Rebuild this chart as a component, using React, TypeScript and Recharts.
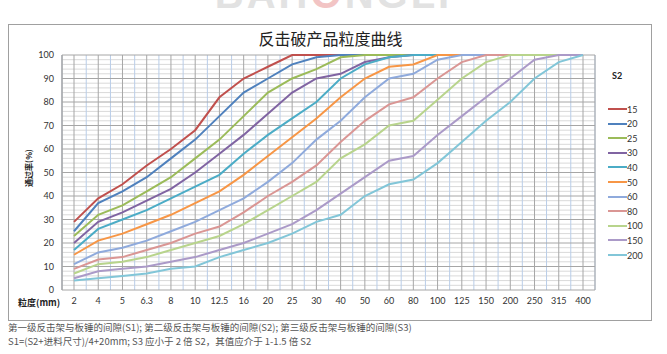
import React from "react";
import { LineChart, Line, XAxis, YAxis, CartesianGrid } from "recharts";

const sizes = ["2", "4", "5", "6.3", "8", "10", "12.5", "16", "20", "25", "30", "40", "50", "60", "80", "100", "125", "150", "200", "250", "315", "400"];

const s15 = [29, 39, 45, 53, 60, 68, 82, 90, 95, 100, 100, 100, 100, 100, 100, 100, 100, 100, 100, 100, 100, 100];
const s20 = [25, 37, 42, 48, 56, 64, 74, 84, 90, 96, 99, 100, 100, 100, 100, 100, 100, 100, 100, 100, 100, 100];
const s25 = [23, 32, 36, 42, 48, 56, 64, 74, 84, 90, 94, 99, 100, 100, 100, 100, 100, 100, 100, 100, 100, 100];
const s30 = [20, 29, 33, 38, 43, 50, 58, 66, 75, 84, 90, 92, 97, 99, 100, 100, 100, 100, 100, 100, 100, 100];
const s40 = [17, 26, 30, 34, 39, 44, 49, 58, 66, 73, 80, 90, 96, 99, 100, 100, 100, 100, 100, 100, 100, 100];
const s50 = [15, 21, 24, 28, 32, 37, 42, 49, 57, 65, 73, 82, 90, 95, 96, 100, 100, 100, 100, 100, 100, 100];
const s60 = [11, 16, 18, 21, 25, 29, 34, 39, 46, 54, 64, 72, 82, 90, 92, 98, 100, 100, 100, 100, 100, 100];
const s80 = [9, 13, 14, 17, 20, 24, 27, 33, 40, 46, 53, 63, 72, 79, 82, 90, 97, 100, 100, 100, 100, 100];
const s100 = [7, 11, 12, 14, 17, 20, 23, 28, 34, 40, 46, 56, 62, 70, 72, 81, 90, 97, 100, 100, 100, 100];
const s150 = [5, 8, 9, 10, 12, 14, 17, 20, 24, 28, 34, 41, 48, 55, 57, 66, 74, 82, 90, 98, 100, 100];
const s200 = [4, 5, 6, 7, 9, 10, 14, 17, 20, 24, 29, 32, 40, 45, 47, 54, 63, 72, 80, 90, 97, 100];

const yTicks = [0, 10, 20, 30, 40, 50, 60, 70, 80, 90, 100];

const series = [
  { name: "15", color: "#C0504D", values: s15 },
  { name: "20", color: "#4F81BD", values: s20 },
  { name: "25", color: "#9BBB59", values: s25 },
  { name: "30", color: "#8064A2", values: s30 },
  { name: "40", color: "#4BACC6", values: s40 },
  { name: "50", color: "#F79646", values: s50 },
  { name: "60", color: "#8FAADC", values: s60 },
  { name: "80", color: "#DA9694", values: s80 },
  { name: "100", color: "#B8D48C", values: s100 },
  { name: "150", color: "#AB9AC8", values: s150 },
  { name: "200", color: "#82C6D8", values: s200 },
];

const data = sizes.map((size, i) => {
  const row: Record<string, any> = { size };
  series.forEach((s) => (row["s" + s.name] = s.values[i]));
  return row;
});

const font = "Lato, 'Noto Sans', sans-serif";
const cjk = "'Noto Sans CJK SC', sans-serif";

// grid helpers (Excel style: light minor lines, darker major lines)
const minorVals = Array.from({ length: 51 }, (_, i) => i * 2).filter((v) => v % 10 !== 0);
const yGen = (vals: number[]) => ({ offset }: any) =>
  vals.map((v) => offset.top + offset.height * (1 - v / 100));
const bandGen = ({ offset }: any) =>
  Array.from({ length: sizes.length + 1 }, (_, i) => offset.left + (offset.width * i) / sizes.length);

export default function App() {
  return (
    <div style={{ position: "absolute", left: 0, top: 0, width: 667, height: 354, background: "#fff", overflow: "hidden" }}>
      <div
        style={{
          position: "absolute",
          left: 0,
          width: 667,
          top: -31,
          height: 50,
          lineHeight: "50px",
          textAlign: "center",
          fontFamily: "'Liberation Sans', sans-serif",
          fontWeight: 700,
          fontSize: 40,
          letterSpacing: 3,
          color: "#e2e2e2",
          whiteSpace: "nowrap",
        }}
      >
        BAH<span style={{ color: "#f2c4c4" }}>O</span>NGLI
      </div>
      <div
        style={{
          position: "absolute",
          left: 8,
          top: 24,
          width: 642,
          height: 295,
          border: "1.5px solid #a0a0a0",
        }}
      />
      <div
        style={{
          position: "absolute",
          left: 8,
          width: 645,
          top: 26,
          textAlign: "center",
          fontFamily: cjk,
          fontSize: 16,
          color: "#222",
        }}
      >
        反击破产品粒度曲线
      </div>
      <div style={{ position: "absolute", left: 0, top: 0 }}>
        <LineChart width={667} height={354} data={data} margin={{ top: 55, right: 72, bottom: 44, left: 32 }}>
          <CartesianGrid horizontal vertical={false} horizontalCoordinatesGenerator={yGen(minorVals)} stroke="#d9d9d9" strokeWidth={1} />
          <CartesianGrid horizontal={false} vertical verticalCoordinatesGenerator={bandGen} stroke="#b9cde8" strokeWidth={1} />
          <CartesianGrid horizontal={false} vertical stroke="#a6a6a6" strokeWidth={1} />
          <CartesianGrid horizontal vertical={false} horizontalCoordinatesGenerator={yGen(yTicks)} stroke="#a6a6a6" strokeWidth={1} />
          <XAxis
            dataKey="size"
            height={20}
            padding={{ left: 12, right: 12 }}
            axisLine={false}
            tickLine={false}
            interval={0}
            tick={{ fontSize: 9, fill: "#333", fontFamily: font }}
          />
          <YAxis
            width={30}
            domain={[0, 100]}
            ticks={yTicks}
            interval={0}
            axisLine={{ stroke: "#a6a6a6" }}
            tickLine={false}
            tick={{ fontSize: 9, fill: "#333", fontFamily: font }}
          />
          {series.map((s) => (
            <Line
              key={s.name}
              type="linear"
              dataKey={"s" + s.name}
              stroke={s.color}
              strokeWidth={2}
              dot={false}
              isAnimationActive={false}
            />
          ))}
        </LineChart>
      </div>
      <div
        style={{
          position: "absolute",
          left: 28,
          top: 168,
          transform: "translate(-50%, -50%) rotate(-90deg)",
          fontFamily: cjk,
          fontWeight: 700,
          fontSize: 8,
          color: "#222",
          whiteSpace: "nowrap",
        }}
      >
        通过率(%)
      </div>
      <div
        style={{
          position: "absolute",
          left: 18,
          top: 296,
          fontFamily: cjk,
          fontWeight: 700,
          fontSize: 9,
          color: "#222",
          whiteSpace: "nowrap",
        }}
      >
        粒度(mm)
      </div>
      <div style={{ position: "absolute", left: 612, top: 70, fontFamily: font, fontWeight: 700, fontSize: 9, color: "#222" }}>S2</div>
      {series.map((s, i) => (
        <div
          key={s.name}
          style={{
            position: "absolute",
            left: 608,
            top: 102.5 + i * 14.6,
            height: 13,
            display: "flex",
            alignItems: "center",
            fontFamily: font,
            fontSize: 9,
            color: "#333",
          }}
        >
          <span style={{ display: "inline-block", width: 19, height: 2, background: s.color }} />
          <span>{s.name}</span>
        </div>
      ))}
      <div
        style={{
          position: "absolute",
          left: 8,
          top: 320,
          fontFamily: cjk,
          fontSize: 9.5,
          lineHeight: "14px",
          color: "#555",
          whiteSpace: "nowrap",
        }}
      >
        <div>第一级反击架与板锤的间隙(S1); 第二级反击架与板锤的间隙(S2); 第三级反击架与板锤的间隙(S3)</div>
        <div>S1=(S2+进料尺寸)/4+20mm; S3 应小于 2 倍 S2，其值应介于 1-1.5 倍 S2</div>
      </div>
    </div>
  );
}
